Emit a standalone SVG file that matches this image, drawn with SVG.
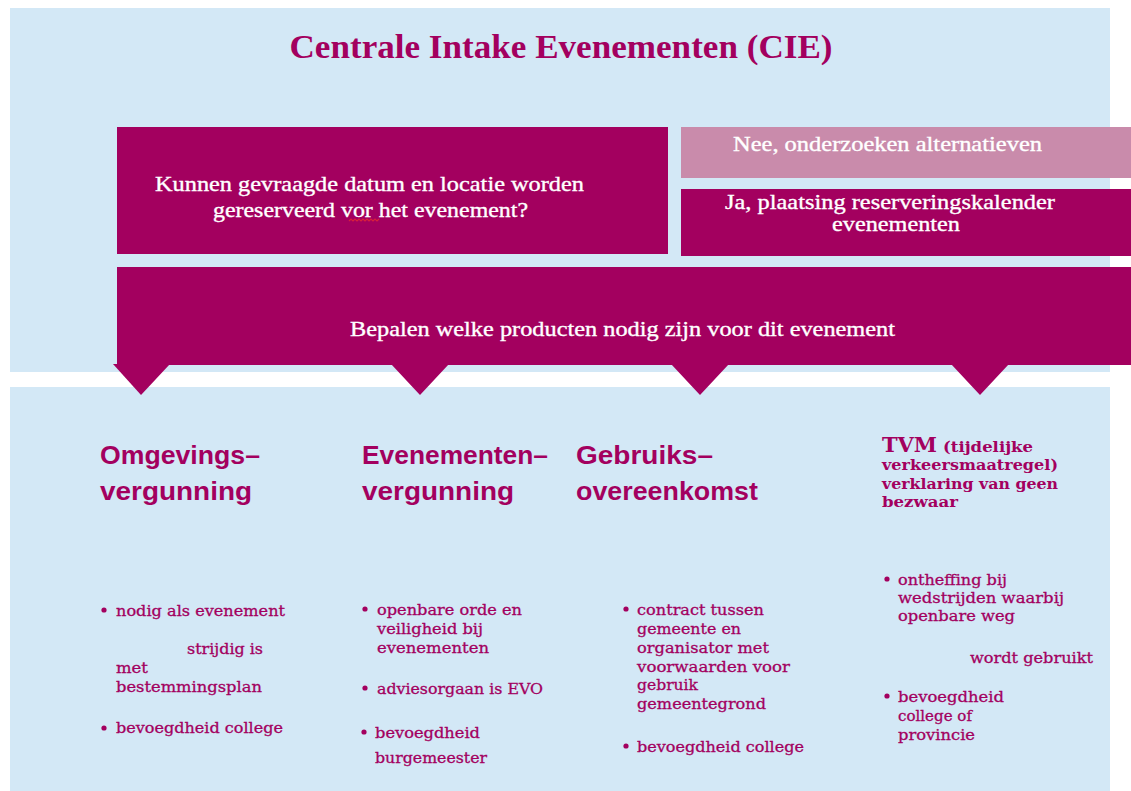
<svg xmlns="http://www.w3.org/2000/svg" width="1131" height="791" viewBox="0 0 1131 791">
<style>
.panel{fill:#D3E8F6}
.dark{fill:#A3005F}
.light{fill:#C98BAB}
.title{font-family:"Liberation Serif",serif;font-weight:bold;font-size:34px;fill:#A3005F}
.box{font-family:"Liberation Serif",serif;font-size:21px;fill:#FFFFFF;stroke:#FFFFFF;stroke-width:0.35}
.head{font-family:"Liberation Sans",Arial,sans-serif;font-weight:bold;font-size:25px;fill:#A3005F}
.tvm{font-family:"DejaVu Serif",serif;font-weight:bold;font-size:15px;fill:#A3005F}
.tvmbig{font-family:"DejaVu Serif",serif;font-weight:bold;font-size:21px;fill:#A3005F}
.txt{font-family:"DejaVu Serif",serif;font-size:15.5px;fill:#A3005F;stroke:#A3005F;stroke-width:0.3}
.dot{fill:#A3005F}
</style>
<rect width="1131" height="791" fill="#FFFFFF"/>
<rect class="panel" x="10" y="8" width="1100" height="364"/>
<rect class="panel" x="10" y="387" width="1100" height="404"/>
<g id="title">
<text class="title" x="561" y="58" text-anchor="middle" textLength="543" lengthAdjust="spacingAndGlyphs">Centrale Intake Evenementen (CIE)</text>
</g>
<g id="vraag">
<rect class="dark" x="117" y="127" width="551" height="127"/>
<text class="box" x="155" y="191" textLength="429" lengthAdjust="spacingAndGlyphs">Kunnen gevraagde datum en locatie worden</text>
<text class="box" x="213" y="217" textLength="315" lengthAdjust="spacingAndGlyphs">gereserveerd vor het evenement?</text>
<path d="M349,221 l2,-2 l2,2 l2,-2 l2,2 l2,-2 l2,2 l2,-2 l2,2 l2,-2 l2,2 l2,-2 l2,2 l2,-2 l2,2 l2,-2" fill="none" stroke="#D8203A" stroke-width="1.2"/>
</g>
<g id="nee">
<rect class="light" x="681" y="127" width="450" height="51"/>
<text class="box" x="733" y="151" textLength="309" lengthAdjust="spacingAndGlyphs">Nee, onderzoeken alternatieven</text>
</g>
<g id="ja">
<rect class="dark" x="681" y="189" width="450" height="67"/>
<text class="box" x="725" y="209" textLength="330" lengthAdjust="spacingAndGlyphs">Ja, plaatsing reserveringskalender</text>
<text class="box" x="832" y="231" textLength="128" lengthAdjust="spacingAndGlyphs">evenementen</text>
</g>
<g id="bepalen">
<rect class="dark" x="117" y="267" width="1014" height="98"/>
<text class="box" x="350" y="336" textLength="545" lengthAdjust="spacingAndGlyphs">Bepalen welke producten nodig zijn voor dit evenement</text>
</g>
<g id="connectors">
<polygon class="dark" points="113,364 170,364 141,395"/>
<polygon class="dark" points="391,364 449,364 420,395"/>
<polygon class="dark" points="671,364 729,364 700,395"/>
<polygon class="dark" points="951,364 1009,364 980,395"/>
</g>
<g id="omgevingsvergunning">
<text class="head" x="100" y="464" textLength="160" lengthAdjust="spacingAndGlyphs">Omgevings–</text>
<text class="head" x="100" y="500" textLength="152" lengthAdjust="spacingAndGlyphs">vergunning</text>
<circle class="dot" cx="104" cy="610" r="2.6"/>
<text class="txt" x="116" y="616" textLength="169" lengthAdjust="spacingAndGlyphs">nodig als evenement</text>
<text class="txt" x="187" y="654" textLength="76" lengthAdjust="spacingAndGlyphs">strijdig is</text>
<text class="txt" x="116" y="673" textLength="32" lengthAdjust="spacingAndGlyphs">met</text>
<text class="txt" x="116" y="692" textLength="146" lengthAdjust="spacingAndGlyphs">bestemmingsplan</text>
<circle class="dot" cx="104" cy="728" r="2.6"/>
<text class="txt" x="116" y="733" textLength="167" lengthAdjust="spacingAndGlyphs">bevoegdheid college</text>
</g>
<g id="evenementenvergunning">
<text class="head" x="362" y="464" textLength="186" lengthAdjust="spacingAndGlyphs">Evenementen–</text>
<text class="head" x="362" y="500" textLength="152" lengthAdjust="spacingAndGlyphs">vergunning</text>
<circle class="dot" cx="365" cy="609" r="2.6"/>
<text class="txt" x="377" y="615" textLength="145" lengthAdjust="spacingAndGlyphs">openbare orde en</text>
<text class="txt" x="377" y="634" textLength="106" lengthAdjust="spacingAndGlyphs">veiligheid bij</text>
<text class="txt" x="377" y="653" textLength="112" lengthAdjust="spacingAndGlyphs">evenementen</text>
<circle class="dot" cx="365" cy="688" r="2.6"/>
<text class="txt" x="377" y="694" textLength="166" lengthAdjust="spacingAndGlyphs">adviesorgaan is EVO</text>
<circle class="dot" cx="364" cy="732" r="2.6"/>
<text class="txt" x="375" y="738" textLength="105" lengthAdjust="spacingAndGlyphs">bevoegdheid</text>
<text class="txt" x="375" y="763" textLength="112" lengthAdjust="spacingAndGlyphs">burgemeester</text>
</g>
<g id="gebruiksovereenkomst">
<text class="head" x="576" y="464" textLength="137" lengthAdjust="spacingAndGlyphs">Gebruiks–</text>
<text class="head" x="576" y="500" textLength="182" lengthAdjust="spacingAndGlyphs">overeenkomst</text>
<circle class="dot" cx="626" cy="609" r="2.6"/>
<text class="txt" x="637" y="615" textLength="127" lengthAdjust="spacingAndGlyphs">contract tussen</text>
<text class="txt" x="637" y="634" textLength="104" lengthAdjust="spacingAndGlyphs">gemeente en</text>
<text class="txt" x="637" y="653" textLength="132" lengthAdjust="spacingAndGlyphs">organisator met</text>
<text class="txt" x="637" y="672" textLength="153" lengthAdjust="spacingAndGlyphs">voorwaarden voor</text>
<text class="txt" x="637" y="690" textLength="61" lengthAdjust="spacingAndGlyphs">gebruik</text>
<text class="txt" x="637" y="709" textLength="129" lengthAdjust="spacingAndGlyphs">gemeentegrond</text>
<circle class="dot" cx="626" cy="746" r="2.6"/>
<text class="txt" x="637" y="752" textLength="167" lengthAdjust="spacingAndGlyphs">bevoegdheid college</text>
</g>
<g id="tvm">
<text class="tvmbig" x="882" y="452" textLength="55" lengthAdjust="spacingAndGlyphs">TVM</text>
<text class="tvm" x="943" y="452" textLength="90" lengthAdjust="spacingAndGlyphs">(tijdelijke</text>
<text class="tvm" x="882" y="470" textLength="176" lengthAdjust="spacingAndGlyphs">verkeersmaatregel)</text>
<text class="tvm" x="882" y="489" textLength="176" lengthAdjust="spacingAndGlyphs">verklaring van geen</text>
<text class="tvm" x="882" y="507" textLength="76" lengthAdjust="spacingAndGlyphs">bezwaar</text>
<circle class="dot" cx="887" cy="579" r="2.6"/>
<text class="txt" x="898" y="585" textLength="109" lengthAdjust="spacingAndGlyphs">ontheffing bij</text>
<text class="txt" x="898" y="603" textLength="166" lengthAdjust="spacingAndGlyphs">wedstrijden waarbij</text>
<text class="txt" x="898" y="621" textLength="117" lengthAdjust="spacingAndGlyphs">openbare weg</text>
<text class="txt" x="970" y="663" textLength="123" lengthAdjust="spacingAndGlyphs">wordt gebruikt</text>
<circle class="dot" cx="887" cy="696" r="2.6"/>
<text class="txt" x="898" y="702" textLength="106" lengthAdjust="spacingAndGlyphs">bevoegdheid</text>
<text class="txt" x="898" y="721" textLength="74" lengthAdjust="spacingAndGlyphs">college of</text>
<text class="txt" x="898" y="740" textLength="77" lengthAdjust="spacingAndGlyphs">provincie</text>
</g>
</svg>
